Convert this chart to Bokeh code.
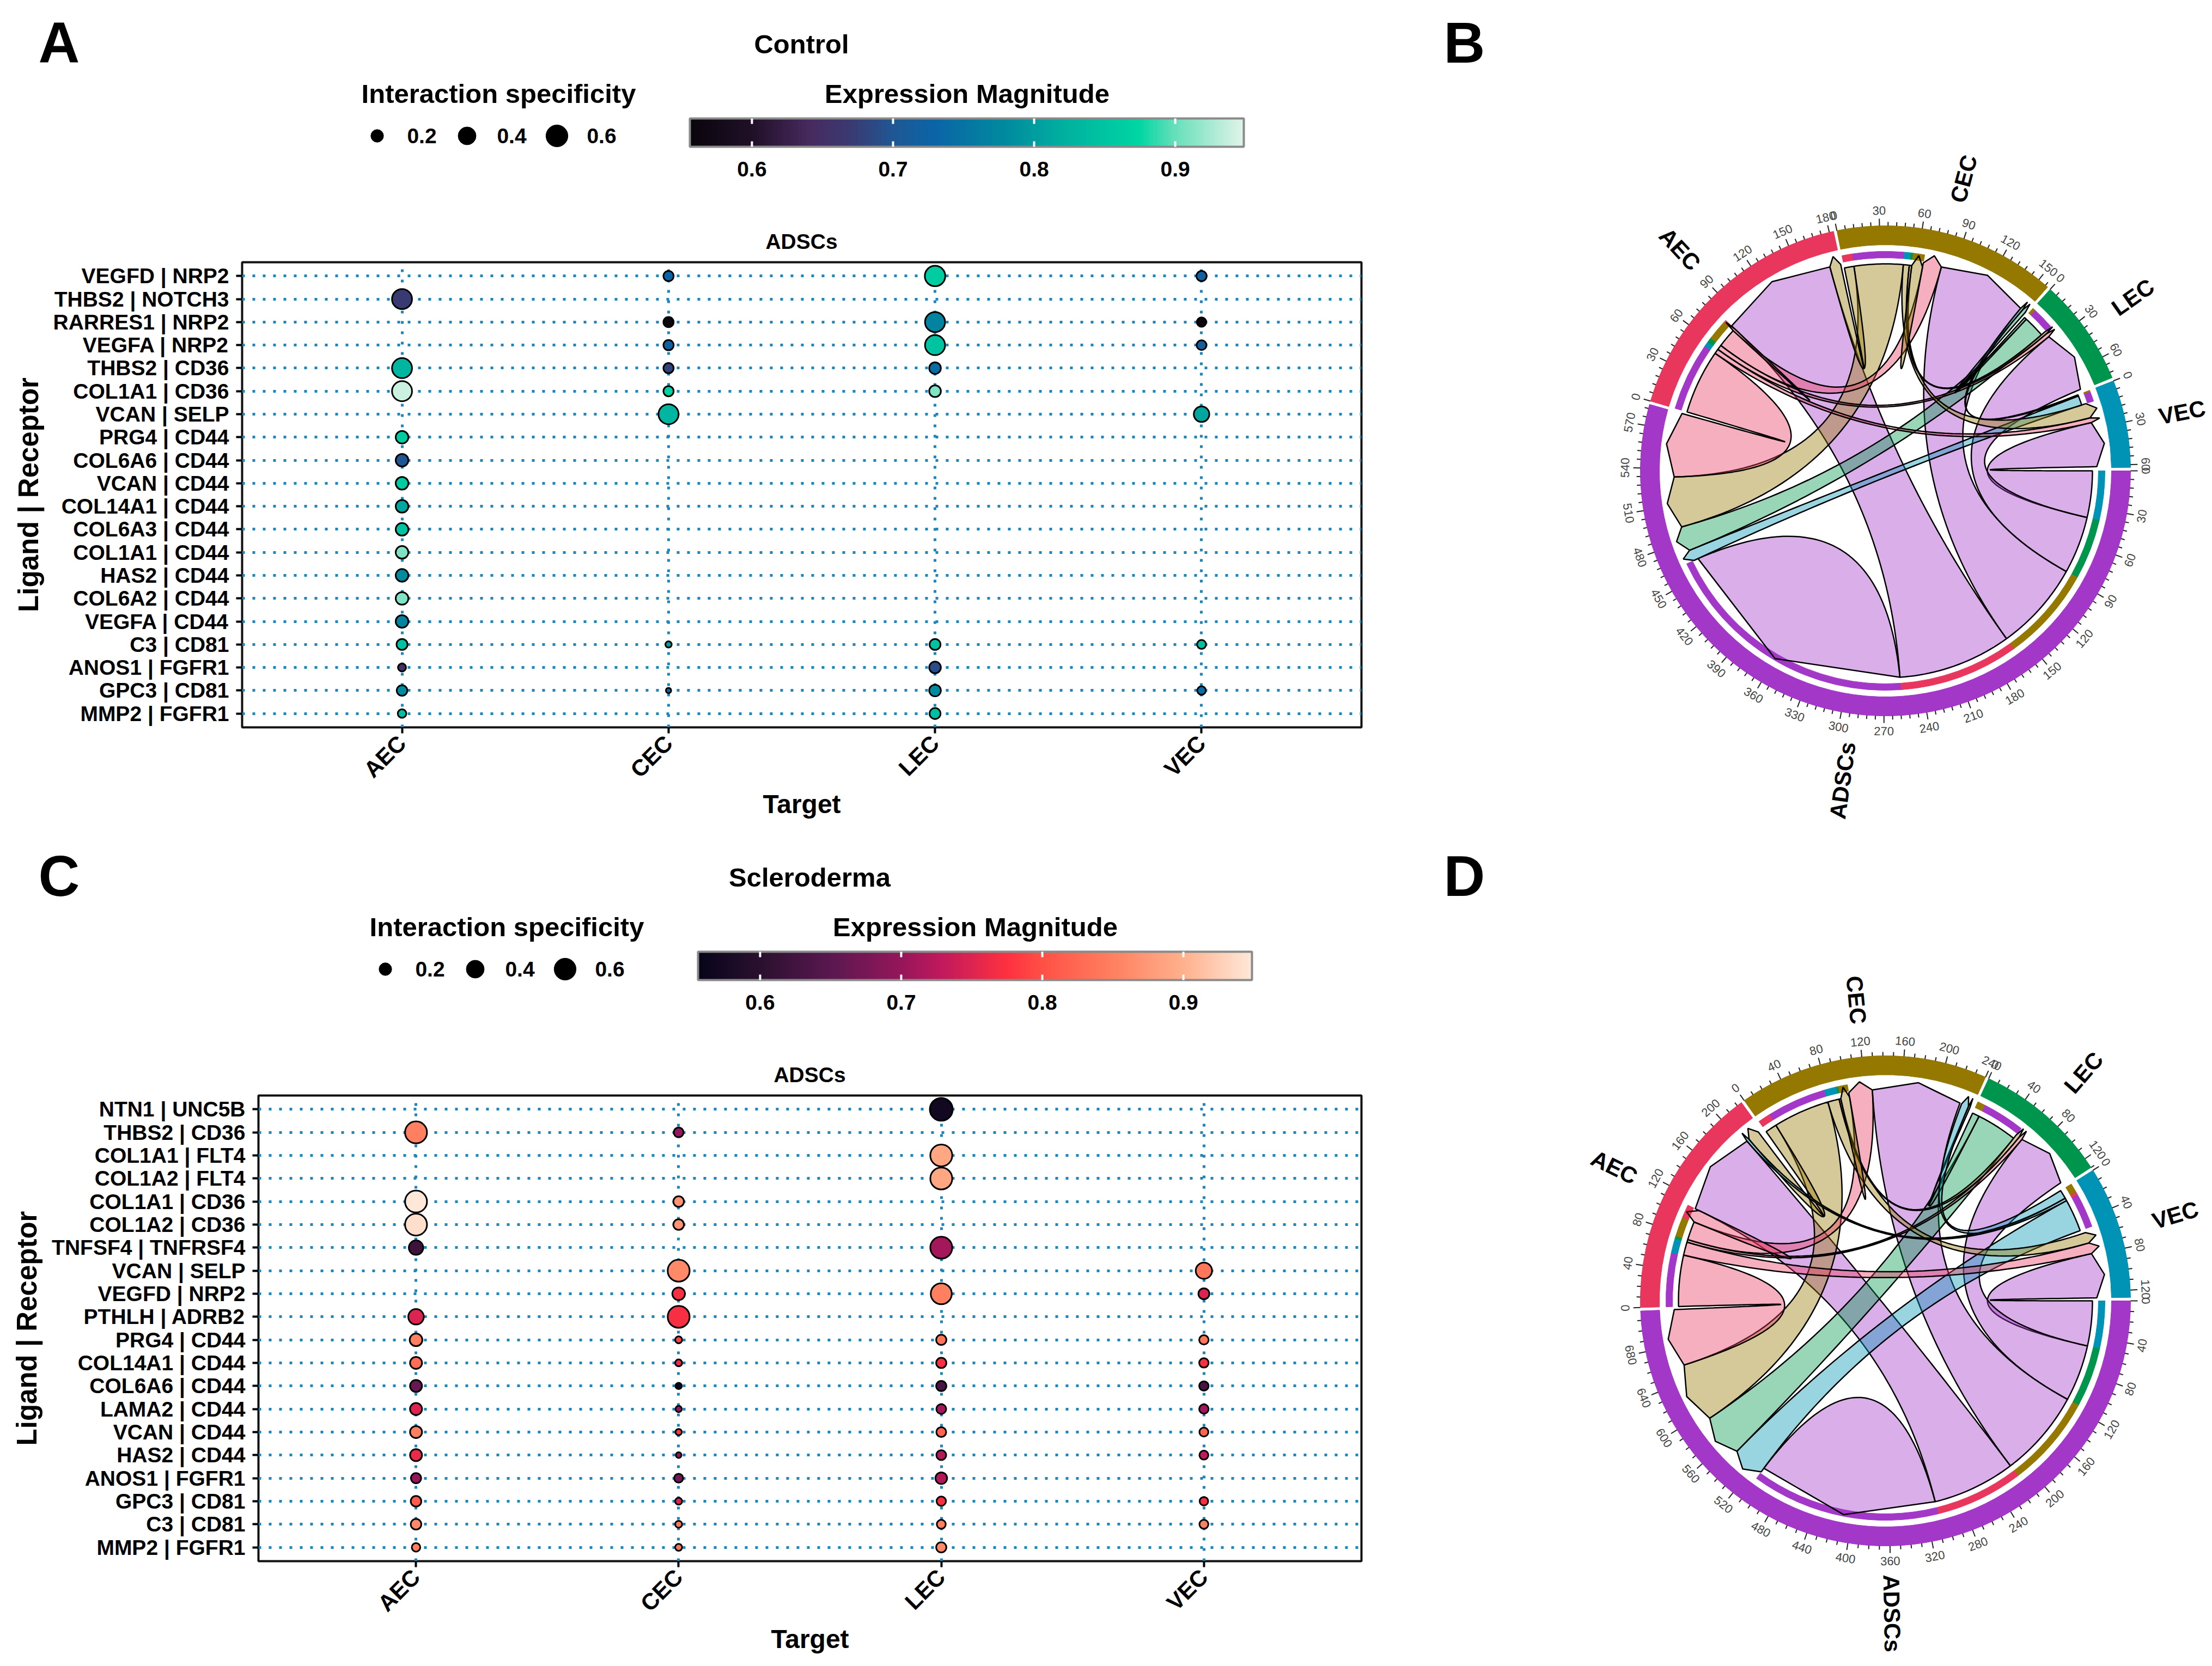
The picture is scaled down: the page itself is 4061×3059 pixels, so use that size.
import math
import numpy as np
from bokeh.plotting import figure
from bokeh.layouts import row, column
from bokeh.embed import file_html
from bokeh.resources import INLINE
from bokeh.core.properties import value
from bokeh.models import (ColumnDataSource, FactorRange, Range1d, FixedTicker, ColorBar,
                          LinearColorMapper, PrintfTickFormatter)

TARGETS = ["AEC", "CEC", "LEC", "VEC"]
N = None
A_ROWS = ["VEGFD | NRP2", "THBS2 | NOTCH3", "RARRES1 | NRP2", "VEGFA | NRP2", "THBS2 | CD36", "COL1A1 | CD36",
          "VCAN | SELP", "PRG4 | CD44", "COL6A6 | CD44", "VCAN | CD44", "COL14A1 | CD44", "COL6A3 | CD44",
          "COL1A1 | CD44", "HAS2 | CD44", "COL6A2 | CD44", "VEGFA | CD44", "C3 | CD81", "ANOS1 | FGFR1",
          "GPC3 | CD81", "MMP2 | FGFR1"]
A_MAG = [[N, .73, .86, .72], [.67, N, N, N], [N, .56, .77, .56], [N, .72, .85, .71], [.83, .68, .74, N],
         [.94, .87, .91, N], [N, .83, N, .81], [.86, N, N, N], [.70, N, N, N], [.86, N, N, N], [.81, N, N, N],
         [.85, N, N, N], [.91, N, N, N], [.78, N, N, N], [.91, N, N, N], [.77, N, N, N], [.85, .80, .85, .84],
         [.65, N, .69, N], [.78, .72, .78, .74], [.84, N, .84, N]]
A_SPEC = [[N, .13, .52, .13], [.5, N, N, N], [N, .13, .5, .11], [N, .13, .5, .12], [.5, .13, .17, N],
          [.5, .13, .17, N], [N, .5, N, .3], [.2, N, N, N], [.2, N, N, N], [.2, N, N, N], [.2, N, N, N],
          [.2, N, N, N], [.2, N, N, N], [.2, N, N, N], [.2, N, N, N], [.2, N, N, N], [.15, .05, .15, .1],
          [.08, N, .17, N], [.14, .035, .17, .09], [.09, N, .15, N]]
C_ROWS = ["NTN1 | UNC5B", "THBS2 | CD36", "COL1A1 | FLT4", "COL1A2 | FLT4", "COL1A1 | CD36", "COL1A2 | CD36",
          "TNFSF4 | TNFRSF4", "VCAN | SELP", "VEGFD | NRP2", "PTHLH | ADRB2", "PRG4 | CD44", "COL14A1 | CD44",
          "COL6A6 | CD44", "LAMA2 | CD44", "VCAN | CD44", "HAS2 | CD44", "ANOS1 | FGFR1", "GPC3 | CD81",
          "C3 | CD81", "MMP2 | FGFR1"]
C_MAG = [[N, N, .57, N], [.85, .70, N, N], [N, N, .89, N], [N, N, .89, N], [.95, .87, N, N], [.94, .87, N, N],
         [.62, N, .71, N], [N, .86, N, .84], [N, .77, .85, .75], [.75, .77, N, N], [.85, .79, .84, .84],
         [.83, .76, .77, .77], [.66, .56, .63, .63], [.75, .70, .71, .71], [.85, .78, .82, .82],
         [.76, .69, .72, .73], [.70, .67, .72, N], [.81, .75, .77, .77], [.86, .84, .85, .85], [.85, .84, .86, N]]
C_SPEC = [[N, N, .65, N], [.6, .12, N, N], [N, N, .6, N], [N, N, .6, N], [.6, .14, N, N], [.6, .14, N, N],
          [.26, N, .6, N], [N, .6, N, .33], [N, .2, .55, .15], [.3, .6, N, N], [.2, .06, .13, .11],
          [.18, .06, .13, .11], [.18, .05, .13, .11], [.18, .05, .12, .11], [.18, .05, .12, .1],
          [.18, .04, .12, .1], [.13, .1, .17, N], [.14, .06, .11, .09], [.14, .06, .1, .1], [.09, .06, .13, N]]
LEGEND_SPEC = [0.2, 0.4, 0.6]
CBAR_TICKS = [0.6, 0.7, 0.8, 0.9]
MAG_LOW, MAG_HIGH = 0.556, 0.9486
A_COLORS = [(.556, "#0a050c"), (.60, "#201028"), (.64, "#472a5e"), (.67, "#3a3a72"), (.70, "#1f5794"),
            (.73, "#0a65a6"), (.78, "#008b9e"), (.82, "#00af9f"), (.875, "#00d6a3"), (.90, "#66dfba"),
            (.9486, "#dff4e8")]
C_COLORS = [(.556, "#07051a"), (.60, "#2b1030"), (.65, "#5a1850"), (.70, "#96165a"), (.73, "#c21a5c"),
            (.775, "#ff3040"), (.80, "#ff5046"), (.85, "#ff8060"), (.90, "#ffb08c"), (.9486, "#ffe8d8")]

SECTORS = ["ADSCs", "AEC", "CEC", "LEC", "VEC"]
SECTOR_COLORS = {"ADSCs": "#a338c8", "AEC": "#e9365c", "CEC": "#957800", "LEC": "#00954c", "VEC": "#0093b5"}
B_TOTALS = [585, 183, 158, 76, 62]
B_TICK = 30
B_LINKS = [("ADSCs", 0, 39, "VEC", 25, 61), ("ADSCs", 39, 87, "LEC", 25, 75), ("ADSCs", 87, 162, "CEC", 80, 153),
           ("ADSCs", 162, 257, "AEC", 80, 174), ("ADSCs", 257, 463, "ADSCs", 257, 463),
           ("VEC", 1, 9, "ADSCs", 463, 472), ("LEC", 2, 20, "ADSCs", 472, 492), ("CEC", 8, 49, "ADSCs", 492, 533),
           ("AEC", 0, 54, "ADSCs", 533, 585), ("AEC", 54, 58, "VEC", 21, 25), ("AEC", 58, 62, "LEC", 22, 25),
           ("AEC", 62, 78, "CEC", 65, 80), ("AEC", 78, 80, "AEC", 78, 80), ("CEC", 0, 8, "AEC", 174, 183),
           ("CEC", 49, 54, "VEC", 9, 21), ("CEC", 54, 56, "LEC", 20, 22), ("CEC", 56, 65, "CEC", 56, 65),
           ("LEC", 0, 2, "CEC", 155, 158), ("VEC", 0, 1, "CEC", 153, 155)]
D_TOTALS = [719, 225, 240, 130, 127]
D_TICK = 40
D_LINKS = [("ADSCs", 0, 51, "VEC", 78, 127), ("ADSCs", 51, 115, "LEC", 62, 126), ("ADSCs", 115, 214, "CEC", 128, 226),
           ("ADSCs", 214, 308, "AEC", 111, 205), ("ADSCs", 308, 510, "ADSCs", 308, 510),
           ("VEC", 13, 50, "ADSCs", 510, 545), ("LEC", 8, 54, "ADSCs", 545, 592), ("CEC", 13, 77, "ADSCs", 592, 657),
           ("AEC", 0, 58, "ADSCs", 657, 719), ("AEC", 58, 73, "VEC", 66, 78), ("AEC", 73, 76, "LEC", 58, 62),
           ("AEC", 76, 97, "CEC", 102, 128), ("AEC", 97, 111, "AEC", 97, 111), ("CEC", 0, 13, "AEC", 208, 221),
           ("CEC", 77, 90, "VEC", 54, 66), ("CEC", 90, 92, "LEC", 54, 58), ("CEC", 92, 102, "CEC", 92, 102),
           ("LEC", 0, 8, "CEC", 236, 238), ("VEC", 0, 10, "CEC", 228, 236), ("VEC", 10, 13, "AEC", 205, 208)]

FONT = value("Liberation Sans")
DOT_SCALE = 52


def ramp(anchors, n=256):
    vs = [a[0] for a in anchors]
    rgb = np.array([[int(a[1][i:i + 2], 16) for i in (1, 3, 5)] for a in anchors], float)
    t = np.linspace(MAG_LOW, MAG_HIGH, n)
    out = np.column_stack([np.interp(t, vs, rgb[:, k]) for k in range(3)]).round().astype(int)
    return ["#%02x%02x%02x" % tuple(c) for c in out]


def dot_plot(rows, mag, spec, palette, width, height, left, right, top, bottom, standoff):
    xs, ys, ds, ms = [], [], [], []
    for r, mrow, srow in zip(rows, mag, spec):
        for t, m, s in zip(TARGETS, mrow, srow):
            if m is not None:
                xs.append(t); ys.append(r); ms.append(m); ds.append(DOT_SCALE * math.sqrt(s))
    x_range = FactorRange(factors=TARGETS, range_padding=0.05)
    y_range = FactorRange(factors=rows[::-1], range_padding=0.01)
    p = figure(width=width, height=height, x_range=x_range, y_range=y_range, output_backend="svg",
               toolbar_location=None, min_border_left=left, min_border_right=right, min_border_top=top,
               min_border_bottom=bottom, x_axis_label="Target", y_axis_label="Ligand | Receptor")
    p.outline_line_color = "#111111"
    p.outline_line_width = 4
    mapper = LinearColorMapper(palette=palette, low=MAG_LOW, high=MAG_HIGH)
    src = ColumnDataSource(dict(x=xs, y=ys, d=ds, m=ms))
    for g in (p.xgrid[0], p.ygrid[0]):
        g.grid_line_color = "#1d86bd"
        g.grid_line_width = 5
        g.grid_line_dash = "5 14"
    p.scatter("x", "y", size="d", source=src, fill_color={"field": "m", "transform": mapper},
              line_color="black", line_width=3)
    for ax in (p.xaxis[0], p.yaxis[0]):
        ax.axis_line_color = None
        ax.major_tick_line_color = "black"
        ax.major_tick_line_width = 4
        ax.minor_tick_line_color = None
        ax.major_tick_out = 11
        ax.major_tick_in = 0
        ax.major_label_text_font = "Liberation Sans"
        ax.major_label_text_font_style = "bold"
        ax.major_label_text_font_size = "39px"
        ax.major_label_text_color = "black"
        ax.axis_label_text_font = "Liberation Sans"
        ax.axis_label_text_font_style = "bold"
        ax.axis_label_text_color = "black"
    p.xaxis[0].major_label_orientation = math.pi / 4
    p.xaxis[0].major_label_text_font_size = "42px"
    p.xaxis[0].axis_label_text_font_size = "48px"
    p.yaxis[0].axis_label_text_font_size = "51px"
    p.xaxis[0].axis_label_standoff = standoff[0]
    p.yaxis[0].axis_label_standoff = standoff[1]
    p.yaxis[0].major_label_standoff = 13
    p.xaxis[0].major_label_standoff = 11
    return p


def header(title, palette, dx, y_top, y_bot, off, letter):
    """Legend strip; coordinates follow the reference page for panel A, y grows downward."""
    p = figure(width=2608, height=y_bot - y_top, x_range=Range1d(0, 2608), y_range=Range1d(y_bot - off, y_top - off),
               output_backend="svg", toolbar_location=None, min_border=0)
    p.axis.visible = False
    p.grid.visible = False
    p.outline_line_color = None
    big = dict(text_font=FONT, text_font_style="bold", text_color="black", text_baseline="middle")
    p.text(x=[70], y=[78], text=[letter], text_font_size="105px", text_align="left", **big)
    p.text(x=[1471 + dx], y=[80], text=[title], text_font_size="49px", text_align="center", **big)
    p.text(x=[915 + dx], y=[171], text=["Interaction specificity"], text_font_size="49px", text_align="center", **big)
    p.text(x=[1775 + dx], y=[171], text=["Expression Magnitude"], text_font_size="49px", text_align="center", **big)
    p.text(x=[1471 + dx], y=[443], text=["ADSCs"], text_font_size="39px", text_align="center", **big)
    lx = [692 + dx + 165 * i for i in range(3)]
    p.scatter(lx, [249] * 3, size=[DOT_SCALE * math.sqrt(s) for s in LEGEND_SPEC], color="black")
    p.text(x=[v + 82 for v in lx], y=[249] * 3, text=["%.1f" % s for s in LEGEND_SPEC], text_font_size="39px",
           text_align="center", **big)
    bar_l, bar_r, bar_t, bar_b = 1266 + dx, 2283 + dx, 217, 269
    mapper = LinearColorMapper(palette=palette, low=MAG_LOW, high=MAG_HIGH)
    # a tuple location counts from the bottom of the panel to the bottom of the bar's labels
    cb = ColorBar(color_mapper=mapper, width=bar_r - bar_l, height=bar_b - bar_t, orientation="horizontal",
                  location=(bar_l, (y_bot - y_top) - (bar_b - (y_top - off)) - 57),
                  ticker=FixedTicker(ticks=CBAR_TICKS),
                  formatter=PrintfTickFormatter(format="%.1f"), major_tick_line_color=None, minor_tick_line_color=None,
                  major_label_text_font="Liberation Sans", major_label_text_font_style="bold",
                  major_label_text_font_size="39px", major_label_text_color="black", label_standoff=27,
                  bar_line_color="#8a8a8a", bar_line_width=4, border_line_color=None, background_fill_color=None,
                  padding=0, margin=0)
    p.add_layout(cb)
    tx = [bar_l + (v - MAG_LOW) / (MAG_HIGH - MAG_LOW) * (bar_r - bar_l) for v in CBAR_TICKS]
    for a, b in ((bar_t, bar_t + 10), (bar_b - 10, bar_b)):
        p.segment(tx, [a] * 4, tx, [b] * 4, line_color="white", line_width=4, level="overlay")
    return p


def chord(totals, links, tick, cy, y_top, y_bot, letter):
    R_OUT, R_IN, TR_OUT, TR_IN, R_SRC, R_CORNER, R_TIP = 450, 415, 403, 391, 380, 388, 405
    cx, gap = 3461, 0.8
    p = figure(width=1445, height=y_bot - y_top, x_range=Range1d(2608 - cx, 4053 - cx),
               y_range=Range1d(cy - y_bot, cy - y_top), output_backend="svg", toolbar_location=None, min_border=0)
    p.axis.visible = False
    p.grid.visible = False
    p.outline_line_color = None
    per = (360 - gap * len(SECTORS)) / sum(totals)
    start, a0 = {}, 0.0
    for s, t in zip(SECTORS, totals):
        start[s] = a0
        a0 += t * per + gap

    def ang(s, v):
        return start[s] + v * per  # clockwise degrees from east

    def pt(deg, r):
        return r * math.cos(math.radians(deg)), -r * math.sin(math.radians(deg))

    def bez(a, b, rc=0.0, mid=0.0, n=50):
        c = pt(mid, rc)
        t = np.linspace(0, 1, n)
        return (((1 - t) ** 2 * a[0] + 2 * t * (1 - t) * c[0] + t ** 2 * b[0]).tolist(),
                ((1 - t) ** 2 * a[1] + 2 * t * (1 - t) * c[1] + t ** 2 * b[1]).tolist())

    # sectors
    sa = [-math.radians(start[s] + t * per) for s, t in zip(SECTORS, totals)]
    ea = [-math.radians(start[s]) for s in SECTORS]
    p.annular_wedge(x=[0] * 5, y=[0] * 5, inner_radius=R_IN, outer_radius=R_OUT, start_angle=sa, end_angle=ea,
                    color=[SECTOR_COLORS[s] for s in SECTORS], direction="anticlock")
    # inner track and ribbons
    px, py, pc = [], [], []
    ts, te, tc = [], [], []
    for s, s0, s1, d, d0, d1 in links:
        ts.append(-math.radians(ang(s, s1))); te.append(-math.radians(ang(s, s0))); tc.append(SECTOR_COLORS[d])
        a_s0, a_s1, a_d0, a_d1 = ang(s, s0), ang(s, s1), ang(d, d0), ang(d, d1)
        if s == d:
            # a link that starts and ends in one sector: one arrow end and a lobe back
            a, b = pt(a_s0, R_SRC), pt(a_s1, R_SRC)
            tip = pt((a_s0 + a_s1) / 2, R_TIP - 5)
            lobe = 20 if s1 - s0 > 30 else 0
            bx, by = bez(b, a, lobe, (a_s0 + a_s1) / 2)
            X = [a[0], tip[0]] + bx
            Y = [a[1], tip[1]] + by
        else:
            arc = [pt(v, R_SRC) for v in np.linspace(a_s0, a_s1, 24)]
            X = [q[0] for q in arc]
            Y = [q[1] for q in arc]
            bx, by = bez(pt(a_s1, R_SRC), pt(a_d0, R_CORNER))
            X += bx; Y += by
            tip = pt((a_d0 + a_d1) / 2, R_TIP)
            X.append(tip[0]); Y.append(tip[1])
            bx, by = bez(pt(a_d1, R_CORNER), pt(a_s0, R_SRC))
            X += bx; Y += by
        px.append(X); py.append(Y); pc.append(SECTOR_COLORS[s])
    p.annular_wedge(x=[0] * len(ts), y=[0] * len(ts), inner_radius=TR_IN, outer_radius=TR_OUT, start_angle=ts,
                    end_angle=te, color=tc, direction="anticlock")
    p.patches(px, py, fill_color=pc, fill_alpha=0.4, line_color="black", line_width=2.5)
    # ticks
    mx0, my0, mx1, my1 = [], [], [], []
    lx, ly, lt, la = [], [], [], []
    for s, t in zip(SECTORS, totals):
        for v in np.arange(0, t + 1e-6, tick / 5 if tick == 30 else tick / 4):
            major = abs(v / tick - round(v / tick)) < 1e-6
            a, b = pt(ang(s, v), R_OUT), pt(ang(s, v), R_OUT + (13 if major else 7))
            mx0.append(a[0]); my0.append(a[1]); mx1.append(b[0]); my1.append(b[1])
            if major:
                deg = ang(s, v)
                q = pt(deg, R_OUT + 28)
                rot = -90 - deg if math.sin(math.radians(deg)) < 0 else 90 - deg
                lx.append(q[0]); ly.append(q[1]); lt.append("%d" % round(v)); la.append(math.radians(rot))
    p.segment(mx0, my0, mx1, my1, line_color="#222222", line_width=2)
    p.text(lx, ly, text=lt, angle=la, text_font=FONT, text_font_size="22px", text_color="#444444",
           text_align="center", text_baseline="middle")
    # names
    nx, ny, nt, na = [], [], [], []
    for s, t in zip(SECTORS, totals):
        deg = ang(s, t / 2)
        q = pt(deg, 526.5 + 9.5 * len(s))
        rot = -deg if math.cos(math.radians(deg)) >= 0 else 180 - deg
        nx.append(q[0]); ny.append(q[1]); nt.append(s); na.append(math.radians(rot))
    p.text(nx, ny, text=nt, angle=na, text_font=FONT, text_font_style="bold", text_font_size="42px", text_color="black",
           text_align="center", text_baseline="middle")
    p.text(x=[2650 - cx], y=[cy - (1530 * (y_top > 0) + 78)], text=[letter], text_font=FONT, text_font_style="bold",
           text_font_size="105px", text_color="black", text_baseline="middle")
    return p


pal_a, pal_c = ramp(A_COLORS), ramp(C_COLORS)
hA = header("Control", pal_a, 0, 0, 476, 0, "A")
pA = dot_plot(A_ROWS, A_MAG, A_SPEC, pal_a, 2608, 1064, 444, 109, 5, 205, (-6, 14))
hC = header("Scleroderma", pal_c, 15, 1540, 2006, 1530, "C")
pC = dot_plot(C_ROWS, C_MAG, C_SPEC, pal_c, 2608, 1045, 474, 109, 5, 185, (-4, 14))
pB = chord(B_TOTALS, B_LINKS, B_TICK, 864, 0, 1540, "B")
pD = chord(D_TOTALS, D_LINKS, D_TICK, 2388, 1540, 3051, "D")
# each figure gets its own column so that the outer layout does not line up the frames
layout = row(column(column(hA), column(pA), column(hC), column(pC), spacing=0),
             column(column(pB), column(pD), spacing=0), spacing=0)
open("out.html", "w").write(file_html(layout, INLINE))
